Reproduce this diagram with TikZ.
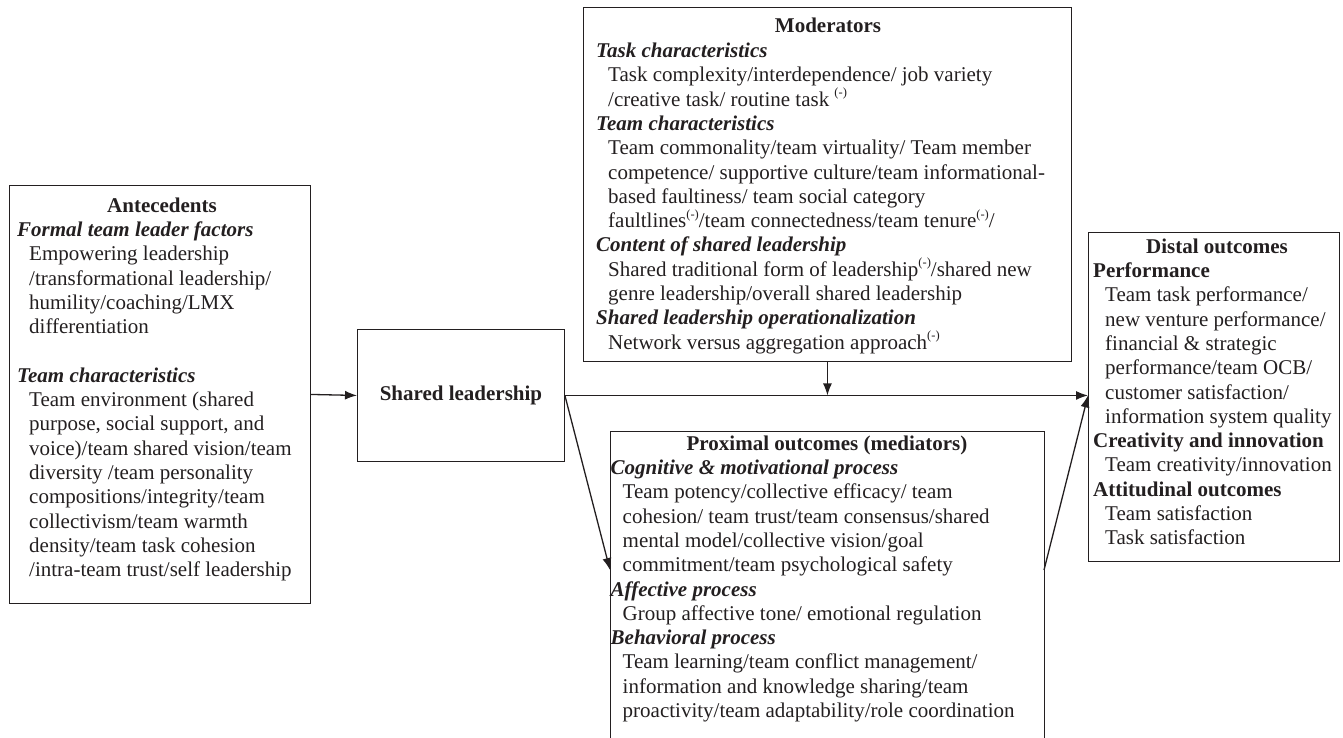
\documentclass[tikz,border=0pt]{standalone}
\usepackage{fontspec}
\setmainfont{Liberation Serif}
\usetikzlibrary{arrows.meta}
\definecolor{ink}{HTML}{231F20}
\newcommand{\mneg}{\raisebox{0.45em}{\fontsize{12.5}{12.5}\selectfont(-)}}
\newcommand{\hd}[1]{\rule{0pt}{16pt}\textbf{\textit{#1}}}
\newcommand{\hb}[1]{\textbf{#1}}
\newcommand{\ii}{\hspace*{12pt}}
\tikzset{
  frame/.style={draw=ink, line width=0.9pt, inner sep=0pt, anchor=north west},
  ttl/.style={inner sep=0pt, anchor=base, text=ink, font=\fontsize{21}{24.3}\selectfont\bfseries},
  body/.style={inner sep=0pt, anchor=north west, align=left, text=ink, font=\fontsize{21}{24.3}\selectfont},
  arr/.style={draw=ink, line width=1.3pt, -{Latex[length=12pt,width=9pt]}},
  ln/.style={draw=ink, line width=1.3pt}
}
\begin{document}
\begin{tikzpicture}[x=1pt,y=-1pt]
\useasboundingbox (0,0) rectangle (1343,738);
% frames
\node[frame, minimum width=301pt, minimum height=418pt] (ant) at (9,185) {};
\node[frame, minimum width=207pt, minimum height=132pt] (sl) at (357,329) {};
\node[frame, minimum width=488pt, minimum height=354pt] (mod) at (583,7) {};
\node[frame, minimum width=434pt, minimum height=320pt] (prox) at (610,431) {};
\node[frame, minimum width=251pt, minimum height=329pt] (dist) at (1088,232) {};
% titles
\node[ttl] (antT) at (162,212) {Antecedents};
\node[ttl, anchor=center] (slT) at (sl.center) {Shared leadership};
\node[ttl] (modT) at (828,33) {Moderators};
\node[ttl] (proxT) at (827,450) {Proximal outcomes (mediators)};
\node[ttl] (distT) at (1217,253) {Distal outcomes};
% bodies
\node[body] (antB) at (17,220.3) {%
\hd{Formal team leader factors}\\
\ii Empowering leadership\\
\ii /transformational leadership/\\
\ii humility/coaching/LMX\\
\ii differentiation\\[24.3pt]
\hd{Team characteristics}\\
\ii Team environment (shared\\
\ii purpose, social support, and\\
\ii voice)/team shared vision/team\\
\ii diversity /team personality\\
\ii compositions/integrity/team\\
\ii collectivism/team warmth\\
\ii density/team task cohesion\\
\ii /intra-team trust/self leadership};
\node[body] (modB) at (596,41.3) {%
\hd{Task characteristics}\\
\ii Task complexity/interdependence/ job variety\\
\ii /creative task/ routine task \mneg\\
\hd{Team characteristics}\\
\ii Team commonality/team virtuality/ Team member\\
\ii competence/ supportive culture/team informational-\\
\ii based faultiness/ team social category\\
\ii faultlines\mneg/team connectedness/team tenure\mneg/\\
\hd{Content of shared leadership}\\
\ii Shared traditional form of leadership\mneg/shared new\\
\ii genre leadership/overall shared leadership\\
\hd{Shared leadership operationalization}\\
\ii Network versus aggregation approach\mneg};
\node[body] (proxB) at (610.5,458.3) {%
\hd{Cognitive \& motivational process}\\
\ii Team potency/collective efficacy/ team\\
\ii cohesion/ team trust/team consensus/shared\\
\ii mental model/collective vision/goal\\
\ii commitment/team psychological safety\\
\hd{Affective process}\\
\ii Group affective tone/ emotional regulation\\
\hd{Behavioral process}\\
\ii Team learning/team conflict management/\\
\ii information and knowledge sharing/team\\
\ii proactivity/team adaptability/role coordination};
\node[body] (distB) at (1093,261.3) {%
\rule{0pt}{16pt}\hb{Performance}\\
\ii Team task performance/\\
\ii new venture performance/\\
\ii financial \& strategic\\
\ii performance/team OCB/\\
\ii customer satisfaction/\\
\ii information system quality\\
\hb{Creativity and innovation}\\
\ii Team creativity/innovation\\
\hb{Attitudinal outcomes}\\
\ii Team satisfaction\\
\ii Task satisfaction};
% connectors
\coordinate (pin) at (610,570);
\coordinate (pout) at (1044,570);
\draw[arr] (ant.east) -- (sl.west);
\draw[arr] (sl.east) -- (sl.east -| dist.west);
\draw[arr] (mod.south) -- (mod.south |- sl.east);
\draw[arr] (sl.east) -- (pin);
\draw[arr] (pout) -- (sl.east -| dist.west);
\end{tikzpicture}
\end{document}
